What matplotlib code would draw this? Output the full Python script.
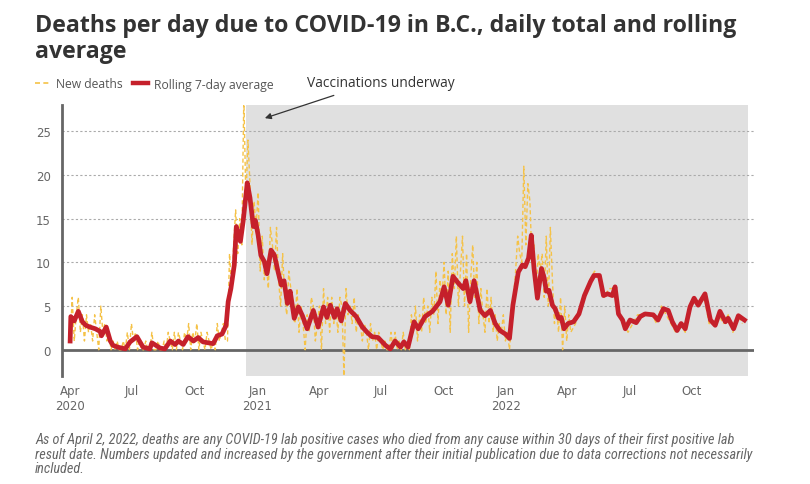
import numpy as np
import pandas as pd
import matplotlib
matplotlib.use("Agg")
from matplotlib import pyplot as plt
from matplotlib import font_manager
from matplotlib.lines import Line2D

# day offsets from April 1, 2020
start = pd.Timestamp("2020-04-01")

# rolling 7-day average
avg_day = [0, 1, 6, 12, 18, 23, 29, 37, 44, 46, 53, 59, 63, 70, 81, 88, 98, 107, 117, 120,
           132, 139, 147, 154, 159, 166, 173, 181, 188, 195, 203, 210, 216, 223, 229, 232, 236, 241, 244, 250,
           254, 260, 264, 269, 272, 276, 280, 285, 289, 295, 300, 305, 310, 314, 319, 323, 329, 335, 341, 348,
           357, 364, 372, 377, 382, 388, 392, 398, 404, 411, 420, 429, 436, 443, 452, 463, 470, 477, 485, 490,
           496, 505, 511, 521, 532, 543, 549, 555, 562, 570, 577, 581, 587, 593, 602, 609, 617, 624, 631, 639,
           645, 650, 658, 664, 668, 673, 677, 681, 686, 692, 696, 699, 703, 708, 712, 717, 721, 725, 731, 739,
           747, 755, 764, 769, 777, 783, 789, 796, 800, 805, 811, 815, 822, 831, 837, 844, 856, 863, 871, 878,
           884, 891, 897, 903, 910, 916, 922, 932, 940, 947, 954, 962, 966, 974, 981, 990]
avg_val = [1.0, 3.8, 3.3, 4.4, 3.2, 2.8, 2.6, 2.4, 2.1, 1.6, 2.6, 1.0, 0.5, 0.3, 0.1, 0.9, 1.5, 0.3, 0.1, 0.8,
           0.2, 0.1, 1.0, 0.6, 1.0, 0.6, 1.5, 1.0, 1.4, 0.9, 0.8, 0.7, 1.6, 1.8, 2.8, 5.5, 7.0, 9.7, 14.1, 12.4,
           14.7, 19.1, 17.4, 14.1, 14.8, 13.1, 10.8, 10.1, 8.7, 11.4, 10.8, 9.0, 7.4, 7.9, 5.3, 6.7, 3.6, 4.9, 3.9, 2.4,
           4.5, 2.6, 4.9, 3.7, 5.1, 3.7, 4.7, 3.3, 5.3, 4.5, 3.8, 2.6, 2.0, 1.5, 1.4, 0.5, 0.1, 1.0, 0.3, 0.9,
           0.3, 3.2, 2.4, 3.8, 4.4, 5.5, 7.2, 5.1, 8.4, 7.6, 7.0, 7.9, 5.5, 7.9, 4.5, 3.9, 4.5, 3.0, 2.2, 1.8,
           1.3, 5.1, 8.9, 9.7, 9.5, 10.5, 13.1, 9.3, 5.9, 9.3, 8.2, 6.7, 6.8, 5.1, 4.7, 3.6, 3.7, 2.4, 3.0, 3.2,
           4.1, 6.2, 7.8, 8.5, 8.5, 6.2, 6.4, 6.2, 7.2, 4.1, 3.4, 2.4, 3.4, 3.1, 3.8, 4.1, 4.0, 3.4, 4.7, 4.5,
           3.2, 2.2, 3.0, 2.4, 4.9, 5.9, 5.1, 6.4, 3.4, 2.8, 4.4, 3.2, 3.6, 2.4, 3.9, 3.4]

# new deaths, every 3rd day until early April 2022
new_val = [1, 6, 1, 4, 6, 2, 4, 1, 4, 2, 3, 1, 4, 2, 0, 5, 2, 3, 1, 2, 0,
           1, 0, 1, 0, 0, 1, 0, 2, 0, 3, 1, 2, 0, 1, 0, 0, 1, 0, 0, 2,
           0, 0, 1, 0, 0, 1, 0, 2, 1, 0, 2, 0, 2, 1, 0, 2, 1, 3, 0, 2,
           1, 3, 0, 2, 1, 0, 2, 1, 0, 1, 0, 3, 1, 2, 3, 1,
           1, 11, 7, 12, 16, 11, 15, 12, 29, 17, 24, 19, 12, 17, 14, 18, 9, 13, 8, 10,
           7, 14, 12, 9, 14, 8, 5, 11, 6, 4, 9, 7, 4, 3, 7, 2, 5, 3, 0, 4,
           2, 6, 5, 1, 3, 5, 0, 7, 3, 6, 2, 6, 3, 5, 2, 6, 5, -3, 7, 4,
           5, 3, 6, 2, 4, 3, 1, 3, 2, 0, 3, 1, 2, 0, 2, 1, 0, 1, 0, 0,
           2, 0, 2, 0, 1, 0, 2, 0, 1, 0, 4, 2, 5, 1, 4, 2, 6, 3, 5, 2,
           6, 4, 9, 3, 8, 6, 10, 4, 9, 2, 11, 7, 13, 5, 9, 13, 5, 11, 2, 8,
           12, 6, 10, 3, 7, 4, 2, 7, 3, 6, 2, 4, 1, 3, 2, 4, 1, 2, 0, 3,
           6, 9, 13, 11, 10, 21, 12, 19, 17, 10, 12, 6, 11, 9, 11, 6, 13, 5, 14, 8,
           3, 5, 2, 6, 0, 5, 1, 4, 2]
# weekly reporting afterwards
weekly_val = [3, 5, 6, 8, 9, 8, 6, 7, 7, 4, 3, 2, 3, 4, 4, 4, 4, 3, 5, 4,
              3, 2, 3, 2, 5, 6, 5, 6, 3, 3, 4, 3, 4, 2, 4, 3]

tick_dates = ["2020-04-01", "2020-07-01", "2020-10-01", "2021-01-01", "2021-04-01", "2021-07-01",
              "2021-10-01", "2022-01-01", "2022-04-01", "2022-07-01", "2022-10-01"]
tick_labels = ["Apr\n2020", "Jul", "Oct", "Jan\n2021", "Apr", "Jul", "Oct", "Jan\n2022", "Apr", "Jul", "Oct"]

new_day = list(range(0, 3 * len(new_val), 3)) + list(range(742, 742 + 7 * len(weekly_val), 7))
new_all = new_val + weekly_val

avg_dates = start + pd.to_timedelta(avg_day, unit="D")
new_dates = start + pd.to_timedelta(new_day, unit="D")

# pick a narrow font for the footnote if one is around
fonts = font_manager.fontManager.ttflist
names = {f.name for f in fonts}
narrow, stretch = "Roboto", "normal"
for cand in ["Liberation Sans Narrow", "Roboto Condensed", "Noto Sans Condensed", "Open Sans Condensed",
             "DejaVu Sans Condensed"]:
    if cand in names:
        narrow = cand
        break
else:
    cond = [f.name for f in fonts if str(f.stretch) in ("condensed", "semi-condensed", "75", "87")]
    if cond:
        narrow, stretch = cond[0], "condensed"

wide = "Open Sans" if "Open Sans" in names else "DejaVu Sans"

yellow = "#f5c247"
red = "#c5202b"

fig = plt.figure(figsize=(8.1, 4.85), dpi=100)
ax = fig.add_axes([0.0765, 0.2227, 0.8544, 0.5587])

ax.axvspan(pd.Timestamp("2020-12-15"), pd.Timestamp("2022-12-22"), color="#e0e0e0", lw=0, zorder=0)
for yv in [5, 10, 15, 20, 25]:
    ax.axhline(yv, color="#aaaaaa", lw=0.8, ls=(0, (2, 2)), zorder=1)
ax.axhline(0, color="#666666", lw=2, zorder=2)

ax.plot(new_dates, new_all, color=yellow, lw=1, ls=(0, (3, 2)), zorder=3)
ax.plot(avg_dates, avg_val, color=red, lw=3.4, solid_joinstyle="round", zorder=4)

ax.set_xlim(pd.Timestamp("2020-03-20"), pd.Timestamp("2022-12-31"))
ax.set_ylim(-3, 28)
ax.set_yticks([0, 5, 10, 15, 20, 25])
ax.set_xticks(pd.to_datetime(tick_dates))
ax.set_xticklabels(tick_labels)
ax.tick_params(length=0, labelsize=8.5, labelcolor="#666666")
ax.tick_params(axis="x", pad=6)
ax.tick_params(axis="y", pad=8)
for s in ["top", "right", "bottom"]:
    ax.spines[s].set_visible(False)
ax.spines["left"].set_color("#666666")
ax.spines["left"].set_linewidth(2)
ax.set_facecolor("none")

# annotation
ax.annotate("", xy=(start + pd.Timedelta(days=282), 26.4),
            xytext=(start + pd.Timedelta(days=391), 29.2),
            arrowprops=dict(arrowstyle="-|>", color="#333333", lw=0.9, mutation_scale=9),
            annotation_clip=False)
note = ax.text(start + pd.Timedelta(days=348), 30.6, "Vaccinations underway", fontsize=9.5,
               family=wide, color="#333333", va="center", ha="left", clip_on=False)

# legend
handles = [Line2D([], [], color=yellow, lw=1.2, ls=(0, (3, 2))),
           Line2D([], [], color=red, lw=3.2)]
fig.legend(handles, ["New deaths", "Rolling 7-day average"], loc="center left",
           bbox_to_anchor=(35 / 810, 1 - 85 / 485), ncol=2, frameon=False,
           borderpad=0, borderaxespad=0,
           handlelength=1.2, handletextpad=0.5, columnspacing=0.9,
           prop={"family": wide, "size": 8.7}, labelcolor="#555555")

title1 = fig.text(35 / 810, 1 - 32 / 485, "Deaths per day due to COVID-19 in B.C., daily total and rolling",
                  family=wide, fontsize=15, fontweight="bold", color="#333333",
                  va="baseline", ha="left")
title2 = fig.text(35 / 810, 1 - 58 / 485, "average",
                  family=wide, fontsize=15, fontweight="bold", color="#333333",
                  va="baseline", ha="left")

foot = fig.text(35 / 810, 1 - 433 / 485,
                "As of April 2, 2022, deaths are any COVID-19 lab positive cases who died from any cause within 30 days of their first positive lab\n"
                "result date. Numbers updated and increased by the government after their initial publication due to data corrections not necessarily\n"
                "included.",
                family=narrow, fontstretch=stretch, style="italic", fontsize=9, color="#666666",
                va="top", ha="left", linespacing=1.05)

# fit the long texts to the widths they take in the original
fig.canvas.draw()
rend = fig.canvas.get_renderer()
for t, w in [(title1, 703), (foot, 719), (note, 149)]:
    t.set_fontsize(t.get_fontsize() * w / t.get_window_extent(rend).width)
title2.set_fontsize(title1.get_fontsize())

fig.savefig("out.png", dpi=100)
